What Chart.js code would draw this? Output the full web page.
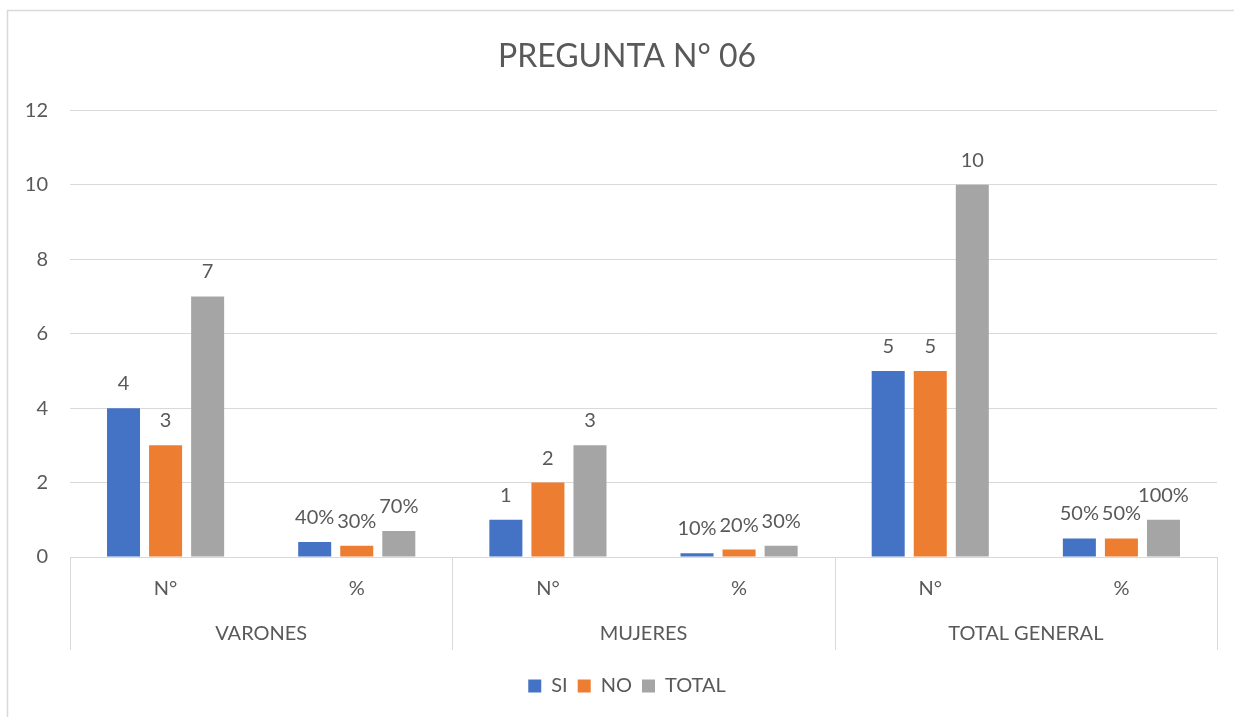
<!DOCTYPE html>
<html>
<head>
<meta charset="utf-8">
<script src="https://cdn.jsdelivr.net/npm/chart.js@4"></script>
<style>
html,body{margin:0;padding:0;background:#fff;}
#wrap{width:1234px;height:717px;position:relative;}
</style>
</head>
<body>
<div id="wrap"><canvas id="c" width="1234" height="717"></canvas></div>
<script>
const subLabels = ["N°", "%", "N°", "%", "N°", "%"];
const groupLabels = ["VARONES", "MUJERES", "TOTAL GENERAL"];
const siValues = [4, 0.4, 1, 0.1, 5, 0.5];
const noValues = [3, 0.3, 2, 0.2, 5, 0.5];
const totalValues = [7, 0.7, 3, 0.3, 10, 1];
const seriesNames = ["SI", "NO", "TOTAL"];
const yTicks = [0, 2, 4, 6, 8, 10, 12];

const FONT = "Lato, 'Liberation Sans', sans-serif";
const TXT = "#595959";
const GRID = "#d9d9d9";

const decor = {
  id: "decor",
  beforeDraw(chart) {
    const ctx = chart.ctx;
    ctx.save();
    ctx.fillStyle = "#fff";
    ctx.fillRect(0, 0, chart.width, chart.height);
    ctx.strokeStyle = GRID;
    ctx.lineWidth = 1.5;
    ctx.strokeRect(7.5, 10.5, chart.width + 20, chart.height + 20);
    ctx.restore();
  },
  afterDraw(chart) {
    const ctx = chart.ctx;
    const xs = chart.scales.x;
    const ys = chart.scales.y;
    const area = chart.chartArea;
    const n = subLabels.length;
    const cw = (area.right - area.left) / n;
    ctx.save();
    // y tick labels
    ctx.fillStyle = TXT;
    ctx.font = "20px " + FONT;
    ctx.textAlign = "right";
    ctx.textBaseline = "middle";
    ys.ticks.forEach(t => {
      ctx.fillText(String(t.value), area.left - 22, ys.getPixelForValue(t.value));
    });
    // separators
    ctx.strokeStyle = GRID;
    ctx.lineWidth = 1;
    for (let g = 0; g <= groupLabels.length; g++) {
      const px = Math.round(xs.getPixelForTick(0) - cw / 2 + g * 2 * cw) + 0.5;
      ctx.beginPath();
      ctx.moveTo(px, area.bottom);
      ctx.lineTo(px, area.bottom + 93);
      ctx.stroke();
    }
    // group labels
    ctx.textAlign = "center";
    groupLabels.forEach((lab, g) => {
      const cx = (xs.getPixelForTick(2 * g) + xs.getPixelForTick(2 * g + 1)) / 2;
      ctx.fillText(lab, cx, area.bottom + 77);
    });
    // data labels
    ctx.textBaseline = "alphabetic";
    chart.data.datasets.forEach((ds, di) => {
      const meta = chart.getDatasetMeta(di);
      meta.data.forEach((bar, i) => {
        const v = ds.data[i];
        const txt = (i % 2 === 1) ? Math.round(v * 100) + "%" : String(v);
        ctx.fillText(txt, bar.x, bar.y - 18);
      });
    });
    ctx.restore();
  }
};

new Chart(document.getElementById("c"), {
  type: "bar",
  data: {
    labels: subLabels,
    datasets: [
      { label: seriesNames[0], data: siValues, backgroundColor: "#4472C4" },
      { label: seriesNames[1], data: noValues, backgroundColor: "#ED7D31" },
      { label: seriesNames[2], data: totalValues, backgroundColor: "#A5A5A5" }
    ]
  },
  options: {
    responsive: false,
    animation: false,
    devicePixelRatio: 1,
    layout: { padding: { left: 37, right: 17, top: 0, bottom: 11 } },
    datasets: { bar: { categoryPercentage: 0.66, barPercentage: 0.785 } },
    plugins: {
      title: {
        display: true,
        text: "PREGUNTA N° 06",
        color: TXT,
        font: { family: FONT, size: 32, weight: "normal" },
        padding: { top: 37, bottom: 35 }
      },
      legend: {
        position: "bottom",
        labels: {
          color: TXT,
          font: { family: FONT, size: 20 },
          boxWidth: 13,
          boxHeight: 13,
          padding: 10
        }
      },
      tooltip: { enabled: false }
    },
    scales: {
      x: {
        grid: { display: false, drawTicks: false },
        border: { display: true, color: GRID, width: 1 },
        ticks: { color: TXT, font: { family: FONT, size: 20 }, padding: 20, maxRotation: 0 },
        afterFit(s) { s.height = 109; }
      },
      y: {
        min: 0, max: 12,
        afterBuildTicks(s) { s.ticks = yTicks.map(v => ({ value: v })); },
        grid: { color: GRID, drawTicks: false },
        border: { display: false },
        ticks: { display: false },
        afterFit(s) { s.width = 33; }
      }
    }
  },
  plugins: [decor]
});
</script>
</body>
</html>
